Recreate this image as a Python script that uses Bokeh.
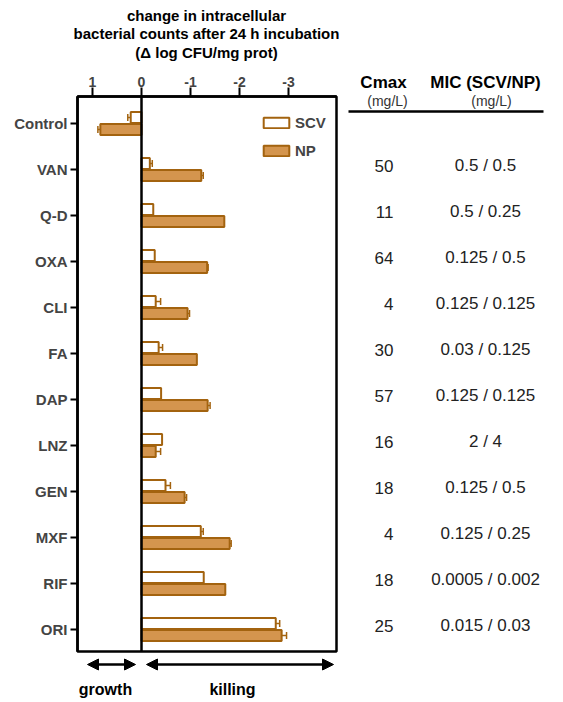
from bokeh.plotting import figure
from bokeh.layouts import row, column
from bokeh.models import (ColumnDataSource, Range1d, FixedTicker, Span,
                          Whisker, TeeHead, Arrow, NormalHead, Legend, LegendItem)
from bokeh.core.properties import value
from bokeh.embed import file_html
from bokeh.resources import INLINE

# ---------------- data ----------------
categories = ["Control", "VAN", "Q-D", "OXA", "CLI", "FA", "DAP", "LNZ", "GEN", "MXF", "RIF", "ORI"]
scv_change = [0.22, -0.17, -0.24, -0.27, -0.29, -0.35, -0.40, -0.42, -0.49, -1.21, -1.27, -2.74]
scv_err = [0.06, 0.05, 0.0, 0.0, 0.10, 0.08, 0.0, 0.0, 0.10, 0.05, 0.0, 0.08]
np_change = [0.84, -1.22, -1.69, -1.34, -0.94, -1.13, -1.35, -0.29, -0.88, -1.80, -1.71, -2.86]
np_err = [0.05, 0.04, 0.0, 0.02, 0.04, 0.0, 0.05, 0.10, 0.04, 0.03, 0.0, 0.10]
cmax = ["", "50", "11", "64", "4", "30", "57", "16", "18", "4", "18", "25"]
mic = ["", "0.5 / 0.5", "0.5 / 0.25", "0.125 / 0.5", "0.125 / 0.125", "0.03 / 0.125",
       "0.125 / 0.125", "2 / 4", "0.125 / 0.5", "0.125 / 0.25", "0.0005 / 0.002", "0.015 / 0.03"]
x_ticks = [1, 0, -1, -2, -3]
title_lines = ["change in intracellular", "bacterial counts after 24 h incubation",
               "(\u0394 log CFU/mg prot)"]

# ---------------- styling ----------------
FILL = "#D4954E"
EDGE = "#A3630F"
FONT = "Liberation Sans"
BAR_H = 0.24

# page pixel helpers for the main frame (page px -> data)
X0, XS = 141.0, 49.0
Y0, YS = 123.0, 46.0
def dx(px):
    return (X0 - px) / XS
def dy(py):
    return (py - Y0) / YS

LEFT_W = 340
TABLE_W = 215
TITLE_H = 68
MAIN_H = 653 - TITLE_H
BOT_H = 47

def blank(width, height, xr, yr):
    f = figure(width=width, height=height, output_backend="svg", toolbar_location=None,
               x_range=xr, y_range=yr, x_axis_type=None, y_axis_type=None,
               min_border=0, min_border_left=0, min_border_right=0,
               min_border_top=0, min_border_bottom=0)
    f.outline_line_color = None
    f.background_fill_color = "white"
    f.border_fill_color = "white"
    return f

def texts(f, xs, ys, ts, size, bold=False, align="center", color="black"):
    f.text(x=xs, y=ys, text=ts, text_font=value(FONT),
           text_font_style="bold" if bold else "normal",
           text_font_size=value(size), text_align=align, text_baseline="middle",
           text_color=color)

# ---------------- title (full-width strip) ----------------
pt = blank(LEFT_W + TABLE_W, TITLE_H, Range1d(0, LEFT_W + TABLE_W), Range1d(TITLE_H, 0))
texts(pt, [206] * 3, [15, 33, 52], title_lines, "15px", bold=True)

# ---------------- main chart ----------------
idx = list(range(len(categories)))
src_scv = ColumnDataSource(dict(y=[i - 0.13 for i in idx], right=scv_change))
src_np = ColumnDataSource(dict(y=[i + 0.13 for i in idx], right=np_change))

def err_source(vals, errs, off):
    ys, lo, hi = [], [], []
    for i, (v, e) in enumerate(zip(vals, errs)):
        if e > 0:
            ys.append(i + off)
            lo.append(v)
            hi.append(v + e if v > 0 else v - e)
    return ColumnDataSource(dict(base=ys, lower=lo, upper=hi))

xr = Range1d(dx(77), dx(336))
p = figure(width=LEFT_W, height=MAIN_H, output_backend="svg", toolbar_location=None,
           x_range=xr, y_range=Range1d(dy(651), dy(96)),
           x_axis_location="above", min_border_left=77, min_border_right=LEFT_W - 336,
           min_border_top=96 - TITLE_H, min_border_bottom=TITLE_H + MAIN_H - 651)
p.background_fill_color = "white"
p.border_fill_color = "white"
p.outline_line_color = "black"
p.outline_line_width = 2.5
p.xgrid.visible = False
p.ygrid.visible = False

xa = p.xaxis[0]
xa.ticker = FixedTicker(ticks=x_ticks)
xa.major_label_overrides = {t: str(t) for t in x_ticks}
xa.axis_line_width = 2.5
xa.major_tick_line_width = 2
xa.major_tick_out = 9
xa.major_tick_in = 0
xa.minor_tick_line_color = None
xa.major_label_text_font = FONT
xa.major_label_text_font_style = "bold"
xa.major_label_text_font_size = "14px"
xa.major_label_standoff = 1

ya = p.yaxis[0]
ya.ticker = FixedTicker(ticks=idx)
ya.major_label_overrides = {i: c for i, c in zip(idx, categories)}
ya.axis_line_width = 2.5
ya.major_tick_line_width = 2
ya.major_tick_out = 7
ya.major_tick_in = 0
ya.minor_tick_line_color = None
ya.major_label_text_font = FONT
ya.major_label_text_font_style = "bold"
ya.major_label_text_font_size = "15px"
ya.major_label_standoff = 3

r_scv = p.hbar(y="y", left=0, right="right", height=BAR_H, source=src_scv,
               fill_color="white", line_color=EDGE, line_width=2)
r_np = p.hbar(y="y", left=0, right="right", height=BAR_H, source=src_np,
              fill_color=FILL, line_color=EDGE, line_width=2)

for src in (err_source(scv_change, scv_err, -0.13), err_source(np_change, np_err, 0.13)):
    p.add_layout(Whisker(base="base", lower="lower", upper="upper", dimension="width",
                         source=src, line_color=EDGE, line_width=1.5,
                         upper_head=TeeHead(size=7, line_color=EDGE, line_width=1.5),
                         lower_head=None))

p.add_layout(Span(location=0, dimension="height", line_color="black", line_width=2.5))

legend = Legend(items=[LegendItem(label="SCV", renderers=[r_scv]),
                       LegendItem(label="NP", renderers=[r_np])],
                location=(183, 492), orientation="vertical",
                glyph_width=32, glyph_height=13, label_height=11, spacing=11,
                padding=0, margin=0, label_standoff=3,
                border_line_color=None, background_fill_alpha=0,
                label_text_font=FONT, label_text_font_style="bold",
                label_text_font_size="15px")
p.add_layout(legend)

# ---------------- growth / killing (frame aligned with the chart's frame) ----------------
TOP_B = TITLE_H + MAIN_H
pb = blank(LEFT_W, BOT_H, xr, Range1d(TOP_B + BOT_H, TOP_B))
for xs, xe in [(87, 135), (146, 333)]:
    pb.add_layout(Arrow(x_start=dx(xs), y_start=664, x_end=dx(xe), y_end=664,
                        start=NormalHead(size=11, fill_color="black", line_color="black"),
                        end=NormalHead(size=11, fill_color="black", line_color="black"),
                        line_color="black", line_width=2.5))
texts(pb, [dx(105), dx(232)], [689, 689], ["growth", "killing"], "16px", bold=True)

# ---------------- table ----------------
pc = blank(TABLE_W, MAIN_H, Range1d(LEFT_W, LEFT_W + TABLE_W), Range1d(TITLE_H + MAIN_H, TITLE_H))
texts(pc, [383, 485], [82, 82], ["Cmax", "MIC (SCV/NP)"], "17px", bold=True)
texts(pc, [387, 491], [100, 100], ["(mg/L)", "(mg/L)"], "14px", color="#333333")
pc.segment(x0=[348], y0=[111], x1=[543], y1=[111], line_color="black", line_width=2.5)
rows = [i for i, c in enumerate(cmax) if c]
row_y = [Y0 + YS * i - 4 for i in rows]
texts(pc, [393] * len(rows), row_y, [cmax[i] for i in rows], "17px", align="right", color="#222222")
texts(pc, [485] * len(rows), row_y, [mic[i] for i in rows], "17px", color="#222222")

layout = column(pt, row(column(p, pb, spacing=0), pc, spacing=0), spacing=0)
open("out.html", "w").write(file_html(layout, INLINE))
